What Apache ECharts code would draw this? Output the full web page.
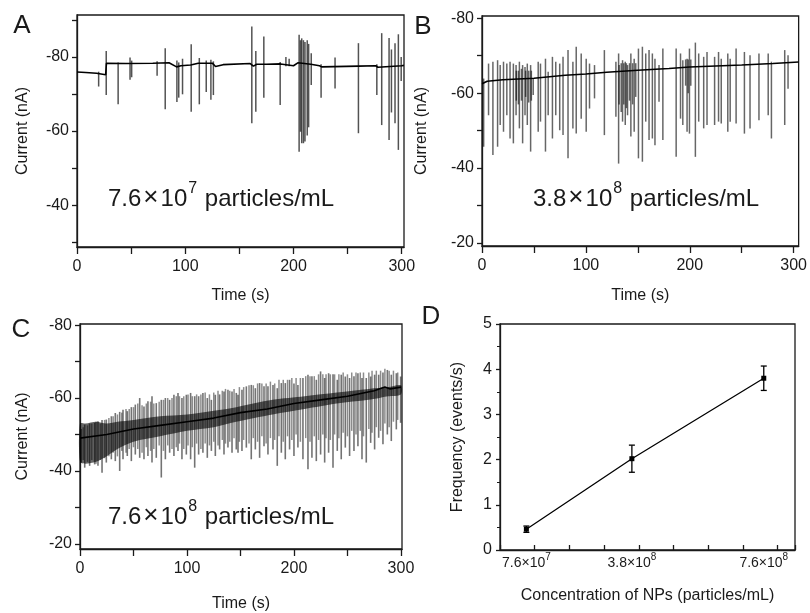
<!DOCTYPE html>
<html><head><meta charset="utf-8">
<script src="https://cdn.jsdelivr.net/npm/echarts@6/dist/echarts.min.js"></script>
<style>html,body{margin:0;padding:0;background:#fff}#c{width:810px;height:613px}</style>
</head><body><div id="c"></div>
<script>
// ---------- DATA ----------
// Panel A, 7.6e7 particles/mL : baseline [t (s), current (nA)]
const baseA = [[0,-75.9],[8,-75.8],[18,-75.6],[26.5,-75.2],[27.2,-78.3],[45,-78.2],[70,-78.3],[85,-78.4],[92,-77.3],[96,-77.6],[105,-77.8],[112,-78.3],[125,-78.3],[128,-77.4],[135,-77.9],[160,-78.2],[163,-77.5],[166,-78.0],[175,-78.0],[188,-78.1],[200,-77.6],[204,-78.4],[216,-78.0],[224,-77.6],[226,-77.3],[260,-77.5],[276,-77.6],[278,-77.2],[300,-77.6],[302,-77.7]];
// Panel A spikes [t, upper current, lower current]
const spikesA = [[20,-76.0,-72.0],[27,-81.6,-69.7],[38,-78.5,-67.2],[49,-79.8,-73.8],[50.5,-79.0,-74.5],[74,-78.8,-74.9],[81.5,-82.3,-65.9],[92.3,-79.0,-67.8],[94,-78.5,-69.0],[97.5,-79.5,-69.9],[105.5,-83.4,-65.2],[113,-79.7,-67.2],[119.4,-79.0,-70.5],[123.7,-79.2,-68.4],[126,-78.8,-69.7],[161.5,-88.2,-62.1],[165.2,-81.6,-65.2],[172.6,-85.5,-69.0],[187.7,-78.6,-67.0],[193,-80.0,-77.5],[196,-79.5,-77.5],[205.2,-86.0,-54.4],[206.5,-84.5,-59.8],[207.6,-85.0,-56.7],[209.2,-84.5,-56.7],[210.6,-84.0,-57.2],[212.7,-84.5,-58.8],[214,-83.5,-61.0],[216.4,-81.0,-72.4],[225.5,-78.0,-69.0],[238.4,-79.8,-71.5],[260,-83.7,-59.4],[277,-78.0,-69.7],[281.5,-86.4,-61.6],[288.3,-85.1,-57.6],[290.5,-82.0,-65.0],[293.8,-83.7,-62.1],[296.9,-86.1,-54.9],[299.5,-80.0,-73.5]];

// Panel B, 3.8e8 particles/mL
const baseB = [[0,-62.5],[5,-63.2],[20,-63.6],[50,-64.0],[80,-64.8],[100,-65.1],[120,-65.6],[150,-66.1],[180,-66.6],[200,-67.0],[250,-67.5],[280,-67.9],[304.8,-68.3]];
const spikesB = [[1.6,-63.9,-45.7],[6.3,-67.9,-54.1],[10.5,-68.4,-43.5],[15.0,-68.8,-45.7],[17.5,-67.5,-51.5],[20.7,-68.4,-49.7],[23.9,-67.9,-54.1],[27.0,-68.4,-47.9],[30.2,-67.9,-46.6],[32.8,-67.5,-54.1],[36.0,-68.4,-50.6],[39.1,-67.5,-46.6],[41.4,-67.0,-54.1],[43.6,-67.9,-51.5],[46.8,-67.5,-44.4],[49.3,-63.9,-59.5],[54.1,-68.4,-49.7],[56.3,-67.9,-52.4],[61.1,-69.2,-44.4],[63.7,-65.7,-54.1],[67.8,-69.7,-47.9],[71.0,-68.4,-54.1],[74.8,-67.9,-50.1],[78.0,-69.7,-48.8],[82.8,-71.5,-42.6],[87.5,-68.4,-50.6],[90.7,-72.4,-49.2],[95.5,-70.6,-53.2],[100.3,-69.2,-49.7],[103.5,-67.9,-55.9],[108.3,-67.5,-58.6],[117.8,-71.5,-48.8],[128.9,-68.4,-53.7],[131.5,-70.6,-41.2],[135.3,-68.8,-52.4],[137.9,-68.4,-51.5],[140.1,-67.5,-54.1],[143.3,-70.6,-48.4],[146.5,-69.2,-49.7],[150.6,-71.9,-42.6],[154.4,-72.4,-41.7],[157.6,-70.6,-52.4],[160.8,-71.5,-47.5],[164.0,-70.6,-47.9],[166.5,-69.2,-46.1],[170.4,-67.5,-57.7],[174.1,-71.9,-47.5],[186.9,-71.9,-43.0],[191.1,-70.6,-53.2],[193.3,-68.8,-51.5],[197.4,-69.2,-49.7],[199.7,-71.9,-49.2],[205.4,-73.5,-43.0],[208.6,-70.6,-52.4],[213.4,-69.7,-50.6],[216.6,-71.0,-51.5],[223.9,-69.7,-51.5],[227.7,-71.0,-52.4],[230.3,-69.2,-51.9],[236.6,-70.6,-49.7],[238.9,-69.2,-52.4],[244.6,-71.9,-51.9],[252.6,-71.0,-49.2],[258.0,-70.1,-50.6],[266.6,-70.6,-52.8],[275.5,-70.6,-54.1],[278.6,-68.4,-47.9],[291.4,-71.5,-51.5],[294.6,-70.1,-61.2],
  [33,-66,-58],[35,-66,-57],[38,-66.5,-58],[42,-66,-59],[45,-66,-57.5],[47.5,-66,-58],[132,-67.5,-57],[134,-68,-55],[136.5,-68,-57],[139,-68,-56],[142,-68,-58],[145,-68,-57],[148,-68,-59],[196,-69,-62],[198.5,-69,-60],[201,-69,-62]];

// Panel C, 7.6e8 particles/mL
const baseC = [[0,-49],[25,-50],[50,-51.5],[75,-52.5],[100,-53.5],[125,-54.5],[150,-56],[175,-57],[200,-58.5],[225,-59.5],[250,-60.5],[275,-62],[285,-63],[290,-62.5],[300,-63]];
// dense core of the trace [t, upper, lower]
const coreC = [[0,-53,-42.5],[5,-53,-42],[15,-53.5,-42.5],[25,-53,-44],[35,-53.5,-46],[50,-54,-48],[75,-55,-49.5],[100,-55.5,-51],[125,-56.5,-52],[146,-57.5,-53.5],[180,-59.5,-55.5],[210,-60.5,-57],[240,-61.5,-58.5],[270,-62.5,-59.5],[288,-63,-60.5],[300,-63.5,-61]];
const spikesC = [[1.2,-51.5,-42.3],[4.4,-52.7,-40.9],[9.0,-53.0,-41.4],[13.7,-53.2,-41.8],[16.8,-53.6,-41.4],[20.6,-54.0,-39.5],[24.6,-54.1,-42.3],[29.3,-55.0,-43.2],[33.0,-55.9,-42.7],[37.1,-56.2,-40.0],[40.2,-56.8,-43.2],[44.2,-56.4,-44.1],[48.0,-57.5,-42.7],[51.7,-58.2,-44.5],[55.8,-60.0,-43.6],[59.8,-57.7,-43.2],[63.5,-59.1,-44.1],[67.3,-60.5,-42.3],[71.3,-58.6,-43.6],[76.0,-59.5,-38.2],[79.8,-60.0,-43.2],[83.8,-59.5,-45.0],[87.8,-60.9,-44.1],[91.6,-61.4,-45.5],[95.3,-60.0,-43.2],[99.4,-60.9,-44.5],[103.4,-61.4,-43.2],[107.2,-60.5,-40.9],[110.9,-60.5,-44.5],[114.9,-61.4,-45.0],[119.0,-60.0,-43.6],[122.8,-59.5,-45.5],[126.5,-60.9,-44.1],[130.5,-61.0,-45.9],[134.6,-61.8,-44.5],[138.3,-62.3,-46.4],[142.1,-61.8,-45.0],[146.1,-61.4,-45.9],
  [147.7,-60.9,-45.0],[151.4,-62.3,-45.5],[155.5,-63.2,-46.4],[160.1,-63.6,-43.2],[163.9,-62.7,-45.9],[167.9,-64.1,-43.6],[172.0,-63.2,-46.8],[175.7,-63.2,-44.5],[180.4,-63.6,-45.9],[184.4,-62.7,-41.4],[188.2,-64.1,-45.0],[191.9,-64.1,-43.2],[195.9,-65.0,-45.9],[200.0,-64.0,-44.1],[203.7,-63.6,-46.4],[208.4,-65.5,-43.2],[213.1,-66.4,-40.5],[216.8,-66.0,-43.6],[220.9,-65.0,-42.7],[224.9,-67.3,-44.5],[228.7,-65.5,-42.3],[232.4,-66.8,-45.0],[236.5,-66.5,-40.9],[240.5,-65.0,-45.5],[244.2,-66.4,-43.2],[248.0,-65.9,-46.4],[252.0,-65.5,-44.1],[256.1,-66.0,-45.5],[259.8,-66.8,-46.8],[263.6,-65.5,-43.2],[267.6,-65.5,-42.3],[271.7,-65.9,-47.7],[275.4,-66.4,-45.9],[279.2,-66.4,-49.1],[283.2,-67.0,-47.3],[287.3,-67.7,-50.0],[291.0,-66.4,-48.2],[295.7,-66.8,-51.4],[299.7,-65.9,-53.2]];
// fainter, shorter events packed between the large ones
const spikesC2 = [[3,-52,-43],[7,-52.5,-42.5],[11,-53,-43],[15,-53.5,-42],[19,-53,-43],[23,-54,-43.5],[27,-54.5,-44],[31,-55,-45],[35,-55.5,-44],[39,-56,-45.5],[43,-57,-45],[46,-57,-46],[50,-57.5,-46.5],[54,-58.5,-46],[58,-58,-45],[62,-58.5,-46.5],[66,-59,-45.5],[69,-58.5,-46],[74,-59,-47],[78,-59.5,-45.5],[82,-60,-47],[86,-60,-46],[90,-60.5,-46.5],[93,-60.5,-47.5],[97,-60.5,-46],[101,-61,-47],[105,-60.5,-46.5],[109,-61,-47.5],[113,-61,-46],[117,-61.5,-47.5],[121,-61,-47],[125,-61.5,-48],[129,-62,-47],[133,-62,-48.5],[136,-62.5,-47.5],[140,-62,-48],[144,-62.5,-49],[149,-63,-48],[153,-63,-48.5],[158,-63.5,-47.5],[162,-63.5,-49],[166,-64,-48],[170,-64,-49.5],[174,-64,-47.5],[178,-64.5,-49],[182,-64,-48.5],[186,-65,-49.5],[190,-65,-48],[194,-65,-49.5],[198,-65.5,-48.5],[202,-65.5,-50],[206,-65.5,-48],[211,-66,-49],[215,-66,-48],[219,-66,-49.5],[223,-66.5,-48.5],[227,-66.5,-50],[230,-66.5,-49],[234,-66.5,-48.5],[238,-66.5,-50],[242,-66.5,-49],[246,-67,-50.5],[250,-66.5,-49.5],[254,-67,-51],[258,-67,-50],[262,-67,-51],[265,-67,-49.5],[270,-67,-51.5],[273,-67.5,-50.5],[277,-67.5,-52],[281,-67.5,-51],[285,-68,-53],[289,-67.5,-52],[293,-67.5,-53.5],[297,-67,-54]];

// Panel D
const concentrations = [7.6e7, 3.8e8, 7.6e8];
const frequency = [0.46, 2.02, 3.80];
const freqError = [0.07, 0.30, 0.27];
const concMantissa = ['7.6', '3.8', '7.6'];
const concExponent = ['7', '8', '8'];

// tick values
const timeLabels = [0, 100, 200, 300];
const timeTicks = [0, 50, 100, 150, 200, 250, 300];
const currentLabelsA = [-80, -60, -40];
const currentTicksA = [-90, -80, -70, -60, -50, -40, -30];
const currentLabelsBC = [-80, -60, -40, -20];
const currentTicksBC = [-80, -70, -60, -50, -40, -30, -20];

// ---------- CHART ----------
const FONT = '"Liberation Sans", Arial, Helvetica, sans-serif';
const INK = '#1a1a1a';
const chart = echarts.init(document.getElementById('c'), null, {renderer: 'canvas'});

const grids = [
  {left: 77, top: 15, width: 327, height: 232},
  {left: 482, top: 16, width: 319, height: 230},
  {left: 80, top: 324, width: 322, height: 226},
  {left: 500, top: 324, width: 295, height: 226}
].map(g => Object.assign({show: true, borderColor: INK, borderWidth: 1.3, backgroundColor: 'transparent'}, g));

function timeAxis(gi, max, gap) {
  return {
    type: 'value', gridIndex: gi, min: 0, max: max,
    name: 'Time (s)', nameLocation: 'middle', nameGap: gap,
    nameTextStyle: {fontFamily: FONT, fontSize: 16, color: INK},
    axisLine: {onZero: false, lineStyle: {color: INK, width: 1.3}},
    axisTick: {show: true, inside: false, length: 7, customValues: timeTicks, lineStyle: {color: INK, width: 1.3}},
    axisLabel: {customValues: timeLabels, fontFamily: FONT, fontSize: 16, color: INK, margin: 12},
    splitLine: {show: false}
  };
}
function currentAxis(gi, min, max, labels, ticks, gap) {
  return {
    type: 'value', gridIndex: gi, min: min, max: max, inverse: true,
    name: 'Current (nA)', nameLocation: 'middle', nameGap: gap,
    nameTextStyle: {fontFamily: FONT, fontSize: 16, color: INK},
    axisLine: {onZero: false, lineStyle: {color: INK, width: 1.3}},
    axisTick: {show: true, inside: false, length: 5, customValues: ticks, lineStyle: {color: INK, width: 1.3}},
    axisLabel: {customValues: labels, fontFamily: FONT, fontSize: 16, color: INK, margin: 8},
    splitLine: {show: false}
  };
}

function makeSpikeRender(color, width) {
  return function (params, api) {
    const p1 = api.coord([api.value(0), api.value(1)]);
    const p2 = api.coord([api.value(0), api.value(2)]);
    return {type: 'line', shape: {x1: p1[0], y1: p1[1], x2: p2[0], y2: p2[1]},
      style: {stroke: color, lineWidth: width}};
  };
}
function spikeSeries(idx, data, color, width, z) {
  return {type: 'custom', xAxisIndex: idx, yAxisIndex: idx, data: data,
    encode: {x: 0, y: [1, 2]}, renderItem: makeSpikeRender(color, width), silent: true, z: z || 2};
}
function baseSeries(idx, data, w) {
  return {type: 'line', xAxisIndex: idx, yAxisIndex: idx, data: data, showSymbol: false, symbol: 'none',
    lineStyle: {color: '#000', width: w || 1.4}, z: 4, silent: true};
}
const coreSeries = {
  type: 'custom', xAxisIndex: 2, yAxisIndex: 2, data: [[150, -55]], silent: true, z: 3,
  renderItem: function (params, api) {
    const upper = coreC.map(d => api.coord([d[0], d[1]]));
    const lower = coreC.map(d => api.coord([d[0], d[2]])).reverse();
    return {type: 'polygon', shape: {points: upper.concat(lower), smooth: 0.3},
      style: {fill: 'rgba(0,0,0,0.6)', lineWidth: 0}};
  }
};

const errData = concentrations.map((c, i) => [c, frequency[i] - freqError[i], frequency[i] + freqError[i]]);
const errSeries = {
  type: 'custom', xAxisIndex: 3, yAxisIndex: 3, data: errData, encode: {x: 0, y: [1, 2]}, z: 4, silent: true,
  renderItem: function (params, api) {
    const lo = api.coord([api.value(0), api.value(1)]);
    const hi = api.coord([api.value(0), api.value(2)]);
    const hw = 3;
    const st = {stroke: '#000', lineWidth: 1.3};
    return {type: 'group', children: [
      {type: 'line', shape: {x1: lo[0], y1: lo[1], x2: hi[0], y2: hi[1]}, style: st},
      {type: 'line', shape: {x1: lo[0] - hw, y1: lo[1], x2: lo[0] + hw, y2: lo[1]}, style: st},
      {type: 'line', shape: {x1: hi[0] - hw, y1: hi[1], x2: hi[0] + hw, y2: hi[1]}, style: st}
    ]};
  }
};

function annotation(left, top, mant, exp) {
  return {type: 'text', left: left, top: top, style: {
    text: '{n|' + mant + '}{x|×}{n|10}{s|' + exp + '}{n| particles/mL}',
    rich: {
      n: {fontFamily: FONT, fontSize: 24, fill: INK, verticalAlign: 'bottom', lineHeight: 30},
      x: {fontFamily: FONT, fontSize: 26, fill: INK, verticalAlign: 'bottom', lineHeight: 30, padding: [0, 2, 0, 2]},
      s: {fontFamily: FONT, fontSize: 16, fill: INK, verticalAlign: 'top', lineHeight: 30, padding: [0, 1, 12, 1]}
    }}};
}
function letter(x, y, t) {
  return {type: 'text', x: x, y: y, style: {text: t, fontFamily: FONT, fontSize: 26, fill: INK, align: 'center', verticalAlign: 'middle'}};
}

const option = {
  animation: false,
  backgroundColor: '#fff',
  grid: grids,
  xAxis: [
    timeAxis(0, 302.1, 41),
    timeAxis(1, 304.8, 42),
    timeAxis(2, 301, 47),
    {
      type: 'value', gridIndex: 3, min: 0, max: 8.5e8, interval: 1e8,
      name: 'Concentration of NPs (particles/mL)', nameLocation: 'middle', nameGap: 38,
      nameTextStyle: {fontFamily: FONT, fontSize: 16, color: INK},
      axisLine: {onZero: false, lineStyle: {color: INK, width: 1.3}},
      axisTick: {show: true, inside: true, length: 5, lineStyle: {color: INK, width: 1.3}},
      axisLabel: {
        customValues: concentrations, fontFamily: FONT, fontSize: 14, color: INK, margin: 2,
        formatter: function (v) {
          const i = concentrations.findIndex(c => Math.abs(c - v) < 1e6);
          return i < 0 ? '' : '{m|' + concMantissa[i] + '×10}{e|' + concExponent[i] + '}';
        },
        rich: {
          m: {fontFamily: FONT, fontSize: 14, color: INK, verticalAlign: 'bottom', lineHeight: 18},
          e: {fontFamily: FONT, fontSize: 10, color: INK, verticalAlign: 'top', lineHeight: 18, padding: [0, 0, 7, 0]}
        }
      },
      splitLine: {show: false}
    }
  ],
  yAxis: [
    currentAxis(0, -91.3, -28.7, currentLabelsA, currentTicksA, 46),
    currentAxis(1, -80.6, -19.2, currentLabelsBC, currentTicksBC, 52),
    currentAxis(2, -80.3, -18.6, currentLabelsBC, currentTicksBC, 49),
    {
      type: 'value', gridIndex: 3, min: 0, max: 5, interval: 1,
      name: 'Frequency (events/s)', nameLocation: 'middle', nameGap: 34,
      nameTextStyle: {fontFamily: FONT, fontSize: 16, color: INK},
      axisLine: {onZero: false, lineStyle: {color: INK, width: 1.3}},
      axisTick: {show: true, inside: false, length: 4, lineStyle: {color: INK, width: 1.3}},
      minorTick: {show: true, splitNumber: 2, length: 3, lineStyle: {color: INK, width: 1}},
      axisLabel: {fontFamily: FONT, fontSize: 16, color: INK, margin: 8},
      splitLine: {show: false}
    }
  ],
  series: [
    spikeSeries(0, spikesA, 'rgba(0,0,0,0.68)', 1.5),
    baseSeries(0, baseA, 1.6),
    spikeSeries(1, spikesB, 'rgba(0,0,0,0.6)', 1.5),
    baseSeries(1, baseB, 1.6),
    spikeSeries(2, spikesC2, 'rgba(0,0,0,0.45)', 1.5, 1),
    coreSeries,
    spikeSeries(2, spikesC, 'rgba(0,0,0,0.55)', 1.6),
    baseSeries(2, baseC, 1.6),
    {
      type: 'line', xAxisIndex: 3, yAxisIndex: 3,
      data: concentrations.map((c, i) => [c, frequency[i]]),
      symbol: 'rect', symbolSize: 5, showSymbol: true,
      itemStyle: {color: '#000'}, lineStyle: {color: '#000', width: 1.3}, z: 5, silent: true
    },
    errSeries
  ],
  graphic: [
    letter(22, 26, 'A'), letter(423, 27, 'B'), letter(21, 330, 'C'), letter(431, 317, 'D'),
    annotation(108, 181, '7.6', '7'),
    annotation(533, 181, '3.8', '8'),
    annotation(108, 499, '7.6', '8')
  ]
};
chart.setOption(option);
</script></body></html>
